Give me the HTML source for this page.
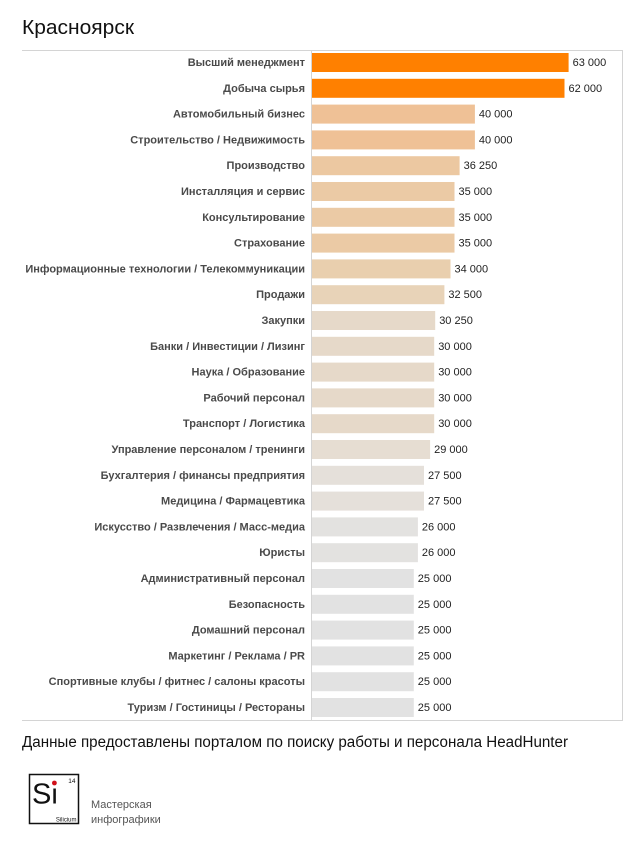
<!DOCTYPE html>
<html><head><meta charset="utf-8"><style>
html,body{margin:0;padding:0;background:#fff;width:640px;height:844px;overflow:hidden}
svg{display:block}
.lb{font-family:"Liberation Sans",Arial,sans-serif;font-size:11px;font-weight:bold;fill:#4a4a4a;text-anchor:end}
.vl{font-family:"Liberation Sans",Arial,sans-serif;font-size:11px;fill:#222}
</style></head><body>
<svg width="640" height="844" viewBox="0 0 640 844" xmlns="http://www.w3.org/2000/svg">
<text x="22" y="34" font-family="Liberation Sans, Arial, sans-serif" font-size="20.5" fill="#111" textLength="112" lengthAdjust="spacingAndGlyphs">Красноярск</text>
<line x1="22" y1="50.5" x2="623" y2="50.5" stroke="#d4d4d4" stroke-width="1"/>
<line x1="22" y1="720.5" x2="623" y2="720.5" stroke="#d4d4d4" stroke-width="1"/>
<line x1="622.5" y1="50" x2="622.5" y2="721" stroke="#d4d4d4" stroke-width="1"/>
<line x1="311.5" y1="50" x2="311.5" y2="721" stroke="#d4d4d4" stroke-width="1"/>
<text x="22" y="747" font-family="Liberation Sans, Arial, sans-serif" font-size="15.5" fill="#111" textLength="546" lengthAdjust="spacingAndGlyphs">Данные предоставлены порталом по поиску работы и персонала HeadHunter</text>
<rect x="29.5" y="774.5" width="49" height="49" fill="none" stroke="#111" stroke-width="1.5"/>
<text x="32" y="803.5" font-family="Liberation Sans, Arial, sans-serif" font-size="29" fill="#111">Si</text>
<circle cx="54.4" cy="783" r="2.4" fill="#d0101a"/>
<text x="75.5" y="783" font-family="Liberation Sans, Arial, sans-serif" font-size="6.5" fill="#111" text-anchor="end">14</text>
<text x="76.5" y="821.5" font-family="Liberation Sans, Arial, sans-serif" font-size="6" fill="#111" text-anchor="end">Silicium</text>
<text x="91" y="808" font-family="Liberation Sans, Arial, sans-serif" font-size="11" fill="#555">Мастерская</text>
<text x="91" y="823" font-family="Liberation Sans, Arial, sans-serif" font-size="11" fill="#555">инфографики</text>

<g>
<rect x="312" y="53" width="256.6" height="19" fill="#ff8000"/>
<text class="lb" x="305" y="66">Высший менеджмент</text>
<text class="vl" x="572.6" y="66">63 000</text>

<rect x="312" y="78.8" width="252.5" height="19" fill="#ff8000"/>
<text class="lb" x="305" y="91.8">Добыча сырья</text>
<text class="vl" x="568.5" y="91.8">62 000</text>

<rect x="312" y="104.6" width="162.9" height="19" fill="#efc196"/>
<text class="lb" x="305" y="117.6">Автомобильный бизнес</text>
<text class="vl" x="478.9" y="117.6">40 000</text>

<rect x="312" y="130.4" width="162.9" height="19" fill="#efc196"/>
<text class="lb" x="305" y="143.4">Строительство / Недвижимость</text>
<text class="vl" x="478.9" y="143.4">40 000</text>

<rect x="312" y="156.2" width="147.6" height="19" fill="#ecc8a1"/>
<text class="lb" x="305" y="169.2">Производство</text>
<text class="vl" x="463.6" y="169.2">36 250</text>

<rect x="312" y="182" width="142.5" height="19" fill="#ebcaa5"/>
<text class="lb" x="305" y="195">Инсталляция и сервис</text>
<text class="vl" x="458.5" y="195">35 000</text>

<rect x="312" y="207.8" width="142.5" height="19" fill="#ebcaa5"/>
<text class="lb" x="305" y="220.8">Консультирование</text>
<text class="vl" x="458.5" y="220.8">35 000</text>

<rect x="312" y="233.6" width="142.5" height="19" fill="#ebcaa5"/>
<text class="lb" x="305" y="246.6">Страхование</text>
<text class="vl" x="458.5" y="246.6">35 000</text>

<rect x="312" y="259.4" width="138.5" height="19" fill="#e9cfae"/>
<text class="lb" x="305" y="272.4">Информационные технологии / Телекоммуникации</text>
<text class="vl" x="454.5" y="272.4">34 000</text>

<rect x="312" y="285.2" width="132.4" height="19" fill="#e8d3b8"/>
<text class="lb" x="305" y="298.2">Продажи</text>
<text class="vl" x="448.4" y="298.2">32 500</text>

<rect x="312" y="311" width="123.2" height="19" fill="#e6d9c9"/>
<text class="lb" x="305" y="324">Закупки</text>
<text class="vl" x="439.2" y="324">30 250</text>

<rect x="312" y="336.8" width="122.2" height="19" fill="#e6d9c9"/>
<text class="lb" x="305" y="349.8">Банки / Инвестиции / Лизинг</text>
<text class="vl" x="438.2" y="349.8">30 000</text>

<rect x="312" y="362.6" width="122.2" height="19" fill="#e6d9c9"/>
<text class="lb" x="305" y="375.6">Наука / Образование</text>
<text class="vl" x="438.2" y="375.6">30 000</text>

<rect x="312" y="388.4" width="122.2" height="19" fill="#e6d9c9"/>
<text class="lb" x="305" y="401.4">Рабочий персонал</text>
<text class="vl" x="438.2" y="401.4">30 000</text>

<rect x="312" y="414.2" width="122.2" height="19" fill="#e6d9c9"/>
<text class="lb" x="305" y="427.2">Транспорт / Логистика</text>
<text class="vl" x="438.2" y="427.2">30 000</text>

<rect x="312" y="440" width="118.1" height="19" fill="#e6ddd2"/>
<text class="lb" x="305" y="453">Управление персоналом / тренинги</text>
<text class="vl" x="434.1" y="453">29 000</text>

<rect x="312" y="465.8" width="112" height="19" fill="#e5e0da"/>
<text class="lb" x="305" y="478.8">Бухгалтерия / финансы предприятия</text>
<text class="vl" x="428" y="478.8">27 500</text>

<rect x="312" y="491.6" width="112" height="19" fill="#e5e0da"/>
<text class="lb" x="305" y="504.6">Медицина / Фармацевтика</text>
<text class="vl" x="428" y="504.6">27 500</text>

<rect x="312" y="517.4" width="105.9" height="19" fill="#e3e2e0"/>
<text class="lb" x="305" y="530.4">Искусство / Развлечения / Масс-медиа</text>
<text class="vl" x="421.9" y="530.4">26 000</text>

<rect x="312" y="543.2" width="105.9" height="19" fill="#e3e2e0"/>
<text class="lb" x="305" y="556.2">Юристы</text>
<text class="vl" x="421.9" y="556.2">26 000</text>

<rect x="312" y="569" width="101.8" height="19" fill="#e2e2e2"/>
<text class="lb" x="305" y="582">Административный персонал</text>
<text class="vl" x="417.8" y="582">25 000</text>

<rect x="312" y="594.8" width="101.8" height="19" fill="#e2e2e2"/>
<text class="lb" x="305" y="607.8">Безопасность</text>
<text class="vl" x="417.8" y="607.8">25 000</text>

<rect x="312" y="620.6" width="101.8" height="19" fill="#e2e2e2"/>
<text class="lb" x="305" y="633.6">Домашний персонал</text>
<text class="vl" x="417.8" y="633.6">25 000</text>

<rect x="312" y="646.4" width="101.8" height="19" fill="#e2e2e2"/>
<text class="lb" x="305" y="659.4">Маркетинг / Реклама / PR</text>
<text class="vl" x="417.8" y="659.4">25 000</text>

<rect x="312" y="672.2" width="101.8" height="19" fill="#e2e2e2"/>
<text class="lb" x="305" y="685.2">Спортивные клубы / фитнес / салоны красоты</text>
<text class="vl" x="417.8" y="685.2">25 000</text>

<rect x="312" y="698" width="101.8" height="19" fill="#e2e2e2"/>
<text class="lb" x="305" y="711">Туризм / Гостиницы / Рестораны</text>
<text class="vl" x="417.8" y="711">25 000</text>
</g>
</svg>
</body></html>
